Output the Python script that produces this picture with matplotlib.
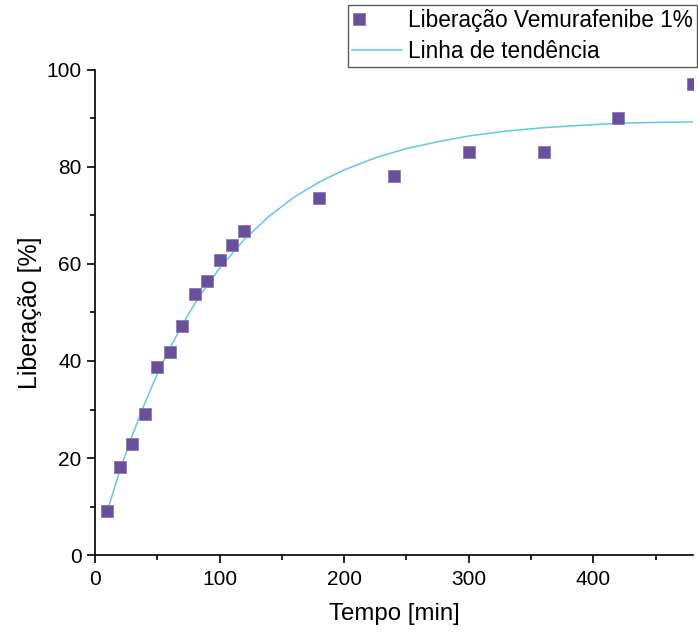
import matplotlib
matplotlib.use("Agg")
import numpy as np
import matplotlib.pyplot as plt
from matplotlib.ticker import MultipleLocator
from matplotlib.legend_handler import HandlerLine2D

# measured release (%) vs time (min)
tempo = [10, 20, 30, 40, 50, 60, 70, 80, 90, 100, 110, 120, 180, 240, 300, 360, 420, 480]
liberacao = [9.0, 18.1, 22.9, 29.1, 38.8, 41.9, 47.2, 53.8, 56.5, 60.8, 63.9, 66.8,
             73.6, 78.1, 83.1, 83.1, 90.1, 97.1]

# trend line
tend_t = [10, 20, 30, 40, 50, 60, 70, 80, 90, 100, 120, 140, 160, 180, 200, 225,
          250, 275, 300, 330, 360, 390, 420, 450, 480]
tend_y = [9.1, 17.4, 24.7, 31.3, 37.3, 42.6, 47.4, 51.8, 55.6, 59.1, 65.1, 69.9,
          73.8, 76.9, 79.4, 81.9, 83.8, 85.2, 86.4, 87.4, 88.1, 88.6, 89.0, 89.2, 89.3]

plt.rcParams.update({
    "font.family": ["Liberation Sans", "DejaVu Sans"],
    "font.size": 15,
})

PURPLE = "#6a4f9c"
CYAN = "#5fcdd3"


class LeftMarker(HandlerLine2D):
    """Legend marker drawn near the left end of the handle box (Origin style)."""
    def get_xdata(self, legend, xdescent, ydescent, width, height, fontsize):
        # with numpoints=1 the marker sits at the middle of this span
        xd = np.array([-xdescent, -xdescent + 0.28 * width])
        return xd, xd


fig = plt.figure(figsize=(6.98, 6.34), dpi=100)
ax = fig.add_axes([0.136, 0.1246, 0.857, 0.765])

ln, = ax.plot(tend_t, tend_y, color=CYAN, lw=1.1, label="Linha de tendência", zorder=2)
pts, = ax.plot(tempo, liberacao, ls="none", marker="s", ms=8.5, color=PURPLE,
               mec="#8c78b8", mew=0.6, label="Liberação Vemurafenibe 1%", zorder=3)

ax.set_xlim(0, 480)
ax.set_ylim(0, 100)
ax.xaxis.set_major_locator(MultipleLocator(100))
ax.xaxis.set_minor_locator(MultipleLocator(50))
ax.yaxis.set_major_locator(MultipleLocator(20))
ax.yaxis.set_minor_locator(MultipleLocator(10))
ax.tick_params(which="major", direction="out", length=6, width=1.2, labelsize=15)
ax.tick_params(axis="x", which="major", pad=5)
ax.tick_params(which="minor", direction="out", length=3.5, width=1.2)
for sp in ("top", "right"):
    ax.spines[sp].set_visible(False)
for sp in ("left", "bottom"):
    ax.spines[sp].set_linewidth(1.2)

ax.set_xlabel("Tempo [min]", fontsize=17.3, labelpad=10)
ax.set_ylabel("Liberação [%]", fontsize=18, labelpad=3)

leg = fig.legend([pts, ln], [pts.get_label(), ln.get_label()],
                 handler_map={pts: LeftMarker(numpoints=1)},
                 loc="upper right", bbox_to_anchor=(0.999, 0.992),
                 frameon=True, fancybox=False, edgecolor="#333333", fontsize=16.3,
                 borderpad=0.18, labelspacing=0.33, handlelength=2.2,
                 handletextpad=0.3, borderaxespad=0)
leg.get_frame().set_linewidth(1.0)

fig.savefig("out.png", dpi=100)
